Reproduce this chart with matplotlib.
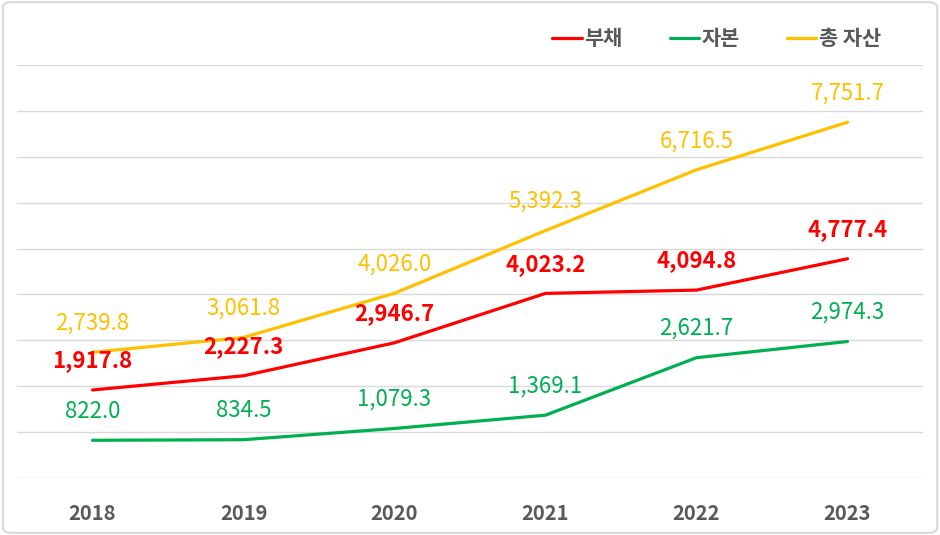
import matplotlib.pyplot as plt
from matplotlib.patches import FancyBboxPatch

plt.rcParams['font.family'] = ['Noto Sans CJK KR', 'DejaVu Sans']

years = ['2018', '2019', '2020', '2021', '2022', '2023']
debt = [1917.8, 2227.3, 2946.7, 4023.2, 4094.8, 4777.4]
equity = [822.0, 834.5, 1079.3, 1369.1, 2621.7, 2974.3]
assets = [2739.8, 3061.8, 4026.0, 5392.3, 6716.5, 7751.7]

series = [
    ('부채', debt, '#FF0000', 'bold'),
    ('자본', equity, '#00B050', 'normal'),
    ('총 자산', assets, '#FFC000', 'normal'),
]

fig = plt.figure(figsize=(9.4, 5.35), dpi=100)
ax = fig.add_axes([17 / 940, 57 / 535, 906 / 940, 413 / 535])

x = range(len(years))
for name, vals, color, weight in series:
    ax.plot(x, vals, color=color, linewidth=2.3, label=name, solid_capstyle='round')
    for xi, v in zip(x, vals):
        ax.annotate(f'{v:,.1f}', (xi, v), xytext=(0, 21), textcoords='offset points',
                    ha='center', va='center', color=color, fontsize=16, fontweight=weight)

ax.set_xlim(-0.5, 5.5)
ax.set_ylim(0, 9000)
ax.set_yticks(range(0, 9001, 1000))
ax.yaxis.grid(True, color='#D9D9D9', linewidth=1)
ax.set_axisbelow(True)
ax.tick_params(axis='y', left=False, labelleft=False)
ax.tick_params(axis='x', length=0, pad=18, labelsize=14.5, labelcolor='#595959')
ax.set_xticks(list(x))
ax.set_xticklabels(years, fontweight='bold')
for s in ax.spines.values():
    s.set_visible(False)

leg = ax.legend(loc='upper right', bbox_to_anchor=(0.974, 1.135), ncol=3, frameon=False,
                fontsize=15, handlelength=1.4, handletextpad=0.1, columnspacing=2.3)
for t in leg.get_texts():
    t.set_color('#595959')
    t.set_fontweight('bold')

border = FancyBboxPatch((0.003, 0.004), 0.994, 0.992, boxstyle='round,pad=0,rounding_size=0.01',
                        transform=fig.transFigure, fill=False, edgecolor='#D9D9D9', linewidth=1.5)
fig.patches.append(border)

fig.savefig('out.png', dpi=100)
